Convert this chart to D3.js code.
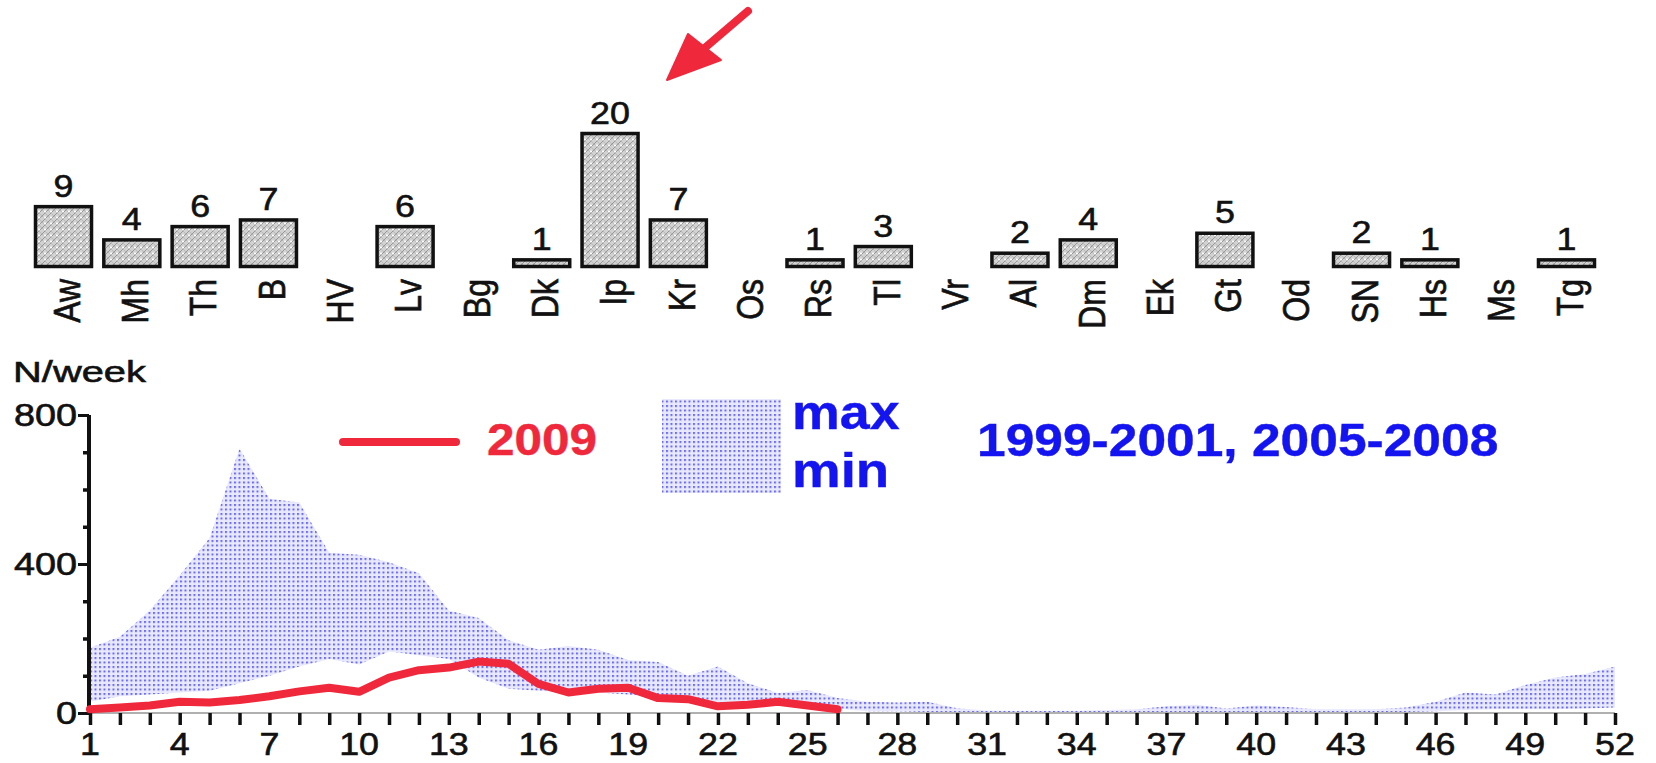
<!DOCTYPE html>
<html><head><meta charset="utf-8">
<script src="https://cdn.jsdelivr.net/npm/d3@7"></script>
<style>html,body{margin:0;padding:0;background:#fff;}svg{display:block;}</style>
</head><body>
<svg id="chart" width="1656" height="763"></svg>
<script>
// ---- data ----
const regions = ["Aw","Mh","Th","B","HV","Lv","Bg","Dk","Ip","Kr","Os","Rs","Tl","Vr","Al","Dm","Ek","Gt","Od","SN","Hs","Ms","Tg"];
const regionCounts = [9,4,6,7,0,6,0,1,20,7,0,1,3,0,2,4,0,5,0,2,1,0,1];
const weeks = d3.range(1, 53);
const maxValues = [175,205,275,370,470,710,575,565,430,425,405,375,275,255,195,170,180,170,142,137,100,125,80,54,62,40,30,28,30,13,7,6,6,6,8,10,18,22,12,20,16,10,10,10,15,30,55,50,75,95,105,125];
const minValues = [30,45,50,55,60,80,100,125,145,130,165,155,145,95,65,60,55,55,50,42,38,28,25,25,15,12,5,5,3,2,2,2,2,2,2,2,2,2,2,2,2,2,2,2,3,5,8,10,10,10,12,15];
const weeks2009 = d3.range(1, 27);
const values2009 = [10,15,20,30,28,35,45,58,68,57,95,115,122,138,132,78,55,65,68,40,37,18,22,30,20,10];
const xTickLabels = d3.range(1, 53, 3);
const yMajorTicks = [0,400,800];
const yMinorTicks = [100,200,300,500,600,700];

const RED = "#f0283c", BLUE = "#1414f0";
const FONT = "'Liberation Sans', Arial, sans-serif";
const svg = d3.select("#chart");

// patterns
const defs = svg.append("defs");
const pBar = defs.append("pattern").attr("id","hatch").attr("patternUnits","userSpaceOnUse").attr("width",6).attr("height",6);
pBar.append("rect").attr("width",6).attr("height",6).attr("fill","#d2d2d2");
pBar.append("path").attr("d","M0,6 L6,0 M-1,1 L1,-1 M5,7 L7,5").attr("stroke","#888").attr("stroke-width",0.8);
pBar.append("path").attr("d","M0,0 L6,6").attr("stroke","#a8a8a8").attr("stroke-width",0.6);
pBar.append("circle").attr("cx",3).attr("cy",1.5).attr("r",1.1).attr("fill","#fff");
const pBand = defs.append("pattern").attr("id","dots").attr("patternUnits","userSpaceOnUse").attr("width",4.5).attr("height",4.5);
pBand.append("rect").attr("width",4.5).attr("height",4.5).attr("fill","#e8e8ff");
pBand.append("rect").attr("width",2).attr("height",2).attr("fill","#6a6af2");

function txt(g, x, y, s, o) {
  const col = o.fill || "#111";
  const t = g.append("text")
    .attr("transform", `translate(${x},${y}) scale(${o.sx||1.13},1)` + (o.rotate ? ` rotate(${o.rotate})` : ""))
    .attr("font-family", FONT).attr("font-size", o.size || 30)
    .attr("font-weight", o.weight || "normal").attr("fill", col)
    .attr("stroke", col).attr("stroke-width", o.sw == null ? 0.6 : o.sw)
    .attr("text-anchor", o.anchor || "start").text(s);
  if (o.dy) t.attr("dy", o.dy);
  return t;
}

// ---- top bar chart ----
const xb = d3.scaleBand().domain(regions).range([29.35, 1600.65]).paddingInner(0.18).paddingOuter(0.09);
const yb = d3.scaleLinear().domain([0, 20]).range([266.5, 133.5]);
const gb = svg.append("g");
regions.forEach((r, i) => {
  const v = regionCounts[i];
  const cx = xb(r) + xb.bandwidth() / 2;
  if (v > 0) {
    gb.append("rect").attr("x", xb(r)).attr("y", yb(v)).attr("width", xb.bandwidth())
      .attr("height", yb(0) - yb(v)).attr("fill", "url(#hatch)").attr("stroke", "#111").attr("stroke-width", 3.5);
    txt(gb, cx, yb(v) - 10, String(v), {anchor: "middle", size: 32, sx: 1.12});
  }
  txt(gb, cx + 3, 279, r, {anchor: "end", size: 32, rotate: -90, dy: "0.36em", sx: 1.15});
});

// ---- bottom chart ----
const x = d3.scaleLinear().domain([1, 52]).range([90, 1615]);
const y = d3.scaleLinear().domain([0, 800]).range([713, 415]);
const g = svg.append("g");

const band = d3.area().x((d, i) => x(weeks[i])).y0((d, i) => y(minValues[i])).y1((d, i) => y(maxValues[i]));
g.append("path").datum(maxValues).attr("d", band).attr("fill", "url(#dots)");

// x axis
g.append("line").attr("x1", x(1)).attr("x2", x(52)).attr("y1", y(0)).attr("y2", y(0)).attr("stroke", "#b0b0b0").attr("stroke-width", 2);
const xAxis = d3.axisBottom(x).tickValues(weeks).tickSize(12).tickFormat(d => xTickLabels.includes(d) ? d : "");
const gx = g.append("g").attr("transform", `translate(0,${y(0)})`).call(xAxis);
gx.select(".domain").remove();
gx.selectAll(".tick line").attr("stroke", "#111").attr("stroke-width", 3.5);
gx.selectAll(".tick text").remove();
xTickLabels.forEach(w => txt(g, x(w), 755, String(w), {anchor: "middle", size: 32, sx: 1.12}));

// y axis
const yAxis = d3.axisLeft(y).tickValues(yMajorTicks).tickSize(11).tickFormat("");
const gy = g.append("g").attr("transform", `translate(${x(1) - 1},0)`).call(yAxis);
gy.select(".domain").attr("stroke", "#111").attr("stroke-width", 4).attr("d", `M0,${y(800)}V${y(0)}`);
gy.selectAll(".tick line").attr("stroke", "#111").attr("stroke-width", 3);
gy.selectAll(".tick text").remove();
const gy2 = g.append("g").attr("transform", `translate(${x(1) - 1},0)`).call(d3.axisLeft(y).tickValues(yMinorTicks).tickSize(6).tickFormat(""));
gy2.select(".domain").remove();
gy2.selectAll(".tick line").attr("stroke", "#111").attr("stroke-width", 3.5);
yMajorTicks.forEach(v => txt(g, 77, y(v) + 11, String(v), {anchor: "end", size: 31, sx: 1.22}));
txt(g, 13, 382, "N/week", {size: 30, sx: 1.33});

// 2009 line
const line = d3.line().x((d, i) => x(weeks2009[i])).y(d => y(d));
g.append("path").datum(values2009).attr("d", line).attr("fill", "none").attr("stroke", RED)
  .attr("stroke-width", 8).attr("stroke-linejoin", "round").attr("stroke-linecap", "round");

// legend
g.append("line").attr("x1", 343).attr("x2", 456).attr("y1", 442).attr("y2", 442).attr("stroke", RED).attr("stroke-width", 8).attr("stroke-linecap", "round");
txt(g, 487, 455, "2009", {size: 45, weight: "bold", fill: RED, sx: 1.1, sw: 0.4});
g.append("rect").attr("x", 662).attr("y", 399).attr("width", 119).attr("height", 94).attr("fill", "url(#dots)");
txt(g, 792, 429, "max", {size: 48, weight: "bold", fill: BLUE, sx: 1.12, sw: 0.4});
txt(g, 792, 487, "min", {size: 48, weight: "bold", fill: BLUE, sx: 1.14, sw: 0.4});
txt(g, 977, 456, "1999-2001, 2005-2008", {size: 46, weight: "bold", fill: BLUE, sx: 1.12, sw: 0.4});

// arrow
svg.append("line").attr("x1", 748).attr("y1", 11).attr("x2", 700).attr("y2", 52).attr("stroke", RED).attr("stroke-width", 8).attr("stroke-linecap", "round");
svg.append("path").attr("d", "M667,80 L688,34 L721,60 Z").attr("fill", RED).attr("stroke", RED).attr("stroke-width", 2).attr("stroke-linejoin", "round");
</script>
</body></html>
